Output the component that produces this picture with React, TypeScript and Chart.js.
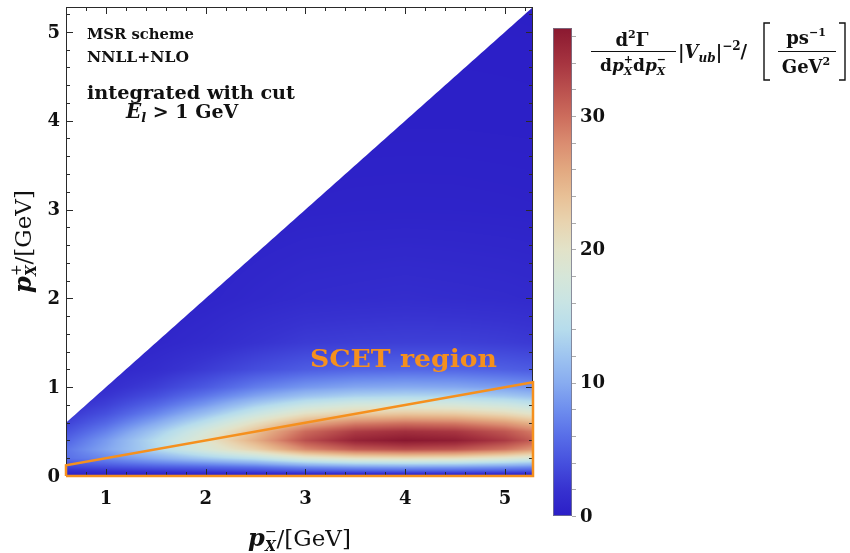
import { useEffect, useRef } from "react";
import { Chart, registerables } from "chart.js";

Chart.register(...registerables);

// ---------------- data ----------------
// grid of p_X^- values (GeV), columns of the density map
const pMinusGrid = [0.6, 1.0, 1.5, 2.0, 2.5, 3.0, 3.5, 4.0, 4.5, 5.0, 5.28];
// grid of p_X^+ values (GeV), rows of the density map
const pPlusGrid = [0, 0.03, 0.06, 0.1, 0.15, 0.2, 0.3, 0.4, 0.5, 0.6, 0.7, 0.8, 0.9, 1.0, 1.2, 1.5, 2.0, 3.0, 4.0, 5.28];

// d^2Gamma/dp+dp- |Vub|^-2 [ps^-1/GeV^2], one column per p- value, listed along pPlusGrid
const rate_pm0_60 = [0.3, 0.9, 1.8, 3.2, 4.8, 6.1, 6.4, 5.3, 4.1, 3.0, 2.2, 1.6, 1.1, 0.8, 0.4, 0.2, 0.1, 0.04, 0.02, 0.01];
const rate_pm1_00 = [0.3, 1.0, 2.2, 3.9, 5.9, 7.6, 9.5, 8.8, 7.2, 5.5, 4.0, 2.9, 2.1, 1.5, 0.8, 0.4, 0.2, 0.08, 0.03, 0.01];
const rate_pm1_50 = [0.35, 1.1, 2.7, 4.8, 7.5, 10.0, 13.6, 14.0, 12.3, 9.8, 7.4, 5.5, 3.9, 2.8, 1.5, 0.8, 0.4, 0.15, 0.06, 0.02];
const rate_pm2_00 = [0.4, 1.3, 3.2, 5.5, 8.9, 12.5, 17.9, 19.5, 17.9, 14.8, 11.6, 8.8, 6.5, 4.6, 2.6, 1.3, 0.65, 0.25, 0.1, 0.03];
const rate_pm2_50 = [0.5, 1.5, 3.8, 6.4, 10.5, 14.8, 22.4, 25.5, 24.0, 20.4, 16.3, 12.8, 9.4, 6.9, 3.8, 2.0, 1.0, 0.38, 0.15, 0.05];
const rate_pm3_00 = [0.6, 1.9, 4.8, 8.0, 13.1, 18.6, 28.2, 32.0, 30.1, 25.6, 20.5, 16.0, 11.8, 8.6, 4.8, 2.6, 1.3, 0.48, 0.19, 0.06];
const rate_pm3_50 = [0.7, 2.1, 5.3, 8.9, 14.6, 20.6, 31.2, 35.5, 33.4, 28.4, 22.7, 17.8, 13.1, 9.6, 5.3, 2.8, 1.4, 0.53, 0.21, 0.07];
const rate_pm4_00 = [0.7, 2.2, 5.5, 9.2, 15.0, 21.2, 32.2, 36.6, 34.4, 29.3, 23.4, 18.3, 13.5, 9.9, 5.5, 2.9, 1.5, 0.55, 0.22, 0.07];
const rate_pm4_50 = [0.7, 2.2, 5.4, 9.0, 14.8, 20.9, 31.7, 36.0, 33.8, 28.8, 23.0, 18.0, 13.3, 9.7, 5.4, 2.9, 1.4, 0.54, 0.22, 0.07];
const rate_pm5_00 = [0.7, 2.0, 5.0, 8.4, 13.7, 19.4, 29.5, 33.5, 31.5, 26.8, 21.4, 16.8, 12.4, 9.0, 5.0, 2.7, 1.3, 0.5, 0.2, 0.07];
const rate_pm5_28 = [0.6, 1.9, 4.7, 7.8, 12.7, 18.0, 27.3, 31.0, 29.1, 24.8, 19.8, 15.5, 11.5, 8.4, 4.7, 2.5, 1.2, 0.47, 0.19, 0.06];
const rateColumns = [rate_pm0_60, rate_pm1_00, rate_pm1_50, rate_pm2_00, rate_pm2_50, rate_pm3_00, rate_pm3_50, rate_pm4_00, rate_pm4_50, rate_pm5_00, rate_pm5_28];

// SCET region outline (p-, p+)
const scetPMinus = [0.6, 0.6, 5.28, 5.28, 0.6];
const scetPPlus = [0, 0.12, 1.056, 0, 0];

// axis ranges / ticks
const pMinusRange = [0.6, 5.28];
const pPlusRange = [0, 5.28];
const xTickLabels = [1, 2, 3, 4, 5];
const yTickLabels = [0, 1, 2, 3, 4, 5];
const colorRange = [0, 36.6];
const colorTickLabels = [0, 10, 20, 30];

// colour map (TemperatureMap-like)
const cmapValues = [0, 2, 4, 6, 8, 10, 12, 14, 16, 18, 20, 22, 24, 26, 28, 30, 32, 34, 36.6];
const cmapColors = [
  [43, 30, 198], [55, 50, 208], [70, 80, 222], [88, 110, 232], [110, 142, 238], [136, 172, 240],
  [158, 196, 240], [182, 220, 236], [200, 228, 228], [214, 230, 216], [226, 226, 200], [232, 212, 176],
  [232, 192, 150], [226, 168, 128], [218, 140, 112], [204, 108, 92], [186, 80, 78], [166, 52, 64], [138, 24, 48],
];

const ORANGE = "#f5901e";
const SERIF = '"DejaVu Serif", serif';
const B = (s: number) => `bold ${s}px ${SERIF}`;
const BI = (s: number) => `italic bold ${s}px ${SERIF}`;
const R = (s: number) => `${s}px ${SERIF}`;

function findIdx(arr: number[], v: number) {
  if (v <= arr[0]) return 0;
  for (let i = 0; i < arr.length - 1; i++) if (v <= arr[i + 1]) return i;
  return arr.length - 2;
}

function sampleRate(pm: number, pp: number) {
  const i = findIdx(pMinusGrid, pm);
  const j = findIdx(pPlusGrid, pp);
  const tx = Math.max(0, Math.min(1, (pm - pMinusGrid[i]) / (pMinusGrid[i + 1] - pMinusGrid[i])));
  const ty = Math.max(0, Math.min(1, (pp - pPlusGrid[j]) / (pPlusGrid[j + 1] - pPlusGrid[j])));
  const a = rateColumns[i][j], b = rateColumns[i + 1][j], c = rateColumns[i][j + 1], d = rateColumns[i + 1][j + 1];
  return (a * (1 - tx) + b * tx) * (1 - ty) + (c * (1 - tx) + d * tx) * ty;
}

function colorFor(v: number) {
  const vv = Math.max(cmapValues[0], Math.min(cmapValues[cmapValues.length - 1], v));
  const i = findIdx(cmapValues, vv);
  const t = (vv - cmapValues[i]) / (cmapValues[i + 1] - cmapValues[i]);
  const c0 = cmapColors[i], c1 = cmapColors[i + 1];
  return [c0[0] + (c1[0] - c0[0]) * t, c0[1] + (c1[1] - c0[1]) * t, c0[2] + (c1[2] - c0[2]) * t];
}

type Piece = { t: string; f: string; dy?: number };
type Run = Piece | { stack: Piece[] };

function runWidth(ctx: CanvasRenderingContext2D, r: Run) {
  if ("stack" in r) {
    let w = 0;
    for (const p of r.stack) { ctx.font = p.f; w = Math.max(w, ctx.measureText(p.t).width); }
    return w;
  }
  ctx.font = r.f;
  return ctx.measureText(r.t).width;
}

function drawRuns(ctx: CanvasRenderingContext2D, runs: Run[], x: number, y: number, align: "left" | "center" = "left") {
  let total = 0;
  for (const r of runs) total += runWidth(ctx, r);
  let cx = align === "center" ? x - total / 2 : x;
  ctx.textAlign = "left";
  ctx.textBaseline = "alphabetic";
  for (const r of runs) {
    const w = runWidth(ctx, r);
    if ("stack" in r) {
      for (const p of r.stack) { ctx.font = p.f; ctx.fillText(p.t, cx, y + (p.dy || 0)); }
    } else {
      ctx.font = r.f;
      ctx.fillText(r.t, cx, y + (r.dy || 0));
    }
    cx += w;
  }
  return total;
}

function fitText(ctx: CanvasRenderingContext2D, text: string, x: number, y: number, width: number) {
  const m = ctx.measureText(text).width;
  ctx.save();
  ctx.translate(x, y);
  ctx.scale(width / m, 1);
  ctx.textAlign = "left";
  ctx.fillText(text, 0, 0);
  ctx.restore();
}

const heatmapPlugin = {
  id: "heatmap",
  beforeDatasetsDraw(chart: any) {
    const { ctx, chartArea: a, scales } = chart;
    const xs = scales.x, ys = scales.y;
    const L = Math.floor(a.left), T = Math.floor(a.top);
    const W = Math.ceil(a.right) - L, H = Math.ceil(a.bottom) - T;
    const off = document.createElement("canvas");
    off.width = W; off.height = H;
    const octx = off.getContext("2d")!;
    const img = octx.createImageData(W, H);
    const pxU = Math.abs(xs.getPixelForValue(1) - xs.getPixelForValue(0));
    for (let j = 0; j < H; j++) {
      const pp = ys.getValueForPixel(T + j + 0.5);
      for (let i = 0; i < W; i++) {
        const pm = xs.getValueForPixel(L + i + 0.5);
        const cov = Math.max(0, Math.min(1, (pm - pp) * pxU * 0.7 + 0.5));
        if (cov <= 0) continue;
        const c = colorFor(sampleRate(pm, pp));
        const k = (j * W + i) * 4;
        img.data[k] = c[0]; img.data[k + 1] = c[1]; img.data[k + 2] = c[2];
        img.data[k + 3] = Math.round(cov * 255);
      }
    }
    octx.putImageData(img, 0, 0);
    ctx.drawImage(off, L, T);
  },
};

const framePlugin = {
  id: "frame",
  beforeDatasetsDraw(chart: any) {
    const { ctx, chartArea: a, scales } = chart;
    const xs = scales.x, ys = scales.y;
    ctx.save();
    ctx.strokeStyle = "#2a2a2a";
    ctx.lineWidth = 1;
    ctx.strokeRect(a.left + 0.5, a.top + 0.5, a.right - a.left - 1, a.bottom - a.top - 1);
    ctx.beginPath();
    for (let k = 3; k <= 26; k++) {
      const v = k / 5;
      if (v < pMinusRange[0] - 1e-6 || v > pMinusRange[1]) continue;
      const major = Math.abs(v - Math.round(v)) < 1e-6;
      const len = major ? 7 : 4;
      const px = Math.round(xs.getPixelForValue(v)) + 0.5;
      ctx.moveTo(px, a.bottom); ctx.lineTo(px, a.bottom - len);
      ctx.moveTo(px, a.top); ctx.lineTo(px, a.top + len);
    }
    for (let k = 0; k <= 26; k++) {
      const v = k / 5;
      if (v > pPlusRange[1]) continue;
      const major = Math.abs(v - Math.round(v)) < 1e-6;
      const len = major ? 7 : 4;
      const py = Math.round(ys.getPixelForValue(v)) + 0.5;
      ctx.moveTo(a.left, py); ctx.lineTo(a.left + len, py);
      ctx.moveTo(a.right, py); ctx.lineTo(a.right - len, py);
    }
    ctx.stroke();

    // tick labels
    ctx.fillStyle = "#111";
    ctx.font = B(18);
    ctx.textAlign = "center";
    ctx.textBaseline = "middle";
    for (const v of xTickLabels) ctx.fillText(String(v), xs.getPixelForValue(v), 499);
    ctx.textAlign = "right";
    for (const v of yTickLabels) ctx.fillText(String(v), 60, ys.getPixelForValue(v) + 1);

    // axis titles
    ctx.fillStyle = "#111";
    const xTitle: Run[] = [
      { t: "p", f: BI(24) },
      { stack: [{ t: "\u2212", f: R(14), dy: -10 }, { t: "X", f: BI(14), dy: 5 }] },
      { t: "/[GeV]", f: R(23) },
    ];
    drawRuns(ctx, xTitle, (a.left + a.right) / 2, 546, "center");
    ctx.save();
    ctx.translate(31, (a.top + a.bottom) / 2);
    ctx.rotate(-Math.PI / 2);
    const yTitle: Run[] = [
      { t: "p", f: BI(24) },
      { stack: [{ t: "+", f: R(14), dy: -10 }, { t: "X", f: BI(14), dy: 5 }] },
      { t: "/[GeV]", f: R(23) },
    ];
    drawRuns(ctx, yTitle, 0, 0, "center");
    ctx.restore();
    ctx.restore();
  },
};

const annotationPlugin = {
  id: "annotations",
  afterDraw(chart: any) {
    const { ctx } = chart;
    ctx.save();
    ctx.fillStyle = "#111";
    ctx.textBaseline = "alphabetic";
    ctx.font = B(14);
    fitText(ctx, "MSR scheme", 87, 39, 107);
    fitText(ctx, "NNLL+NLO", 87, 62, 102);
    ctx.font = B(18);
    fitText(ctx, "integrated with cut", 87, 99, 208);
    drawRuns(ctx, [
      { t: "E", f: BI(20) },
      { t: "l", f: BI(13), dy: 4 },
      { t: " > 1 GeV", f: B(19) },
    ], 126, 118);

    // SCET region label
    ctx.fillStyle = ORANGE;
    ctx.font = B(25);
    fitText(ctx, "SCET region", 310, 367, 187);

    // colour bar
    const cbL = 553, cbR = 572, cbT = 28, cbB = 516;
    const vToY = (v: number) => cbB - ((v - colorRange[0]) / (colorRange[1] - colorRange[0])) * (cbB - cbT);
    const grad = ctx.createLinearGradient(0, cbB, 0, cbT);
    for (let i = 0; i < cmapValues.length; i++) {
      const c = cmapColors[i];
      grad.addColorStop((cmapValues[i] - colorRange[0]) / (colorRange[1] - colorRange[0]), `rgb(${c[0]},${c[1]},${c[2]})`);
    }
    ctx.fillStyle = grad;
    ctx.fillRect(cbL, cbT, cbR - cbL, cbB - cbT);
    ctx.strokeStyle = "rgba(120,120,140,0.8)";
    ctx.lineWidth = 1;
    ctx.strokeRect(cbL + 0.5, cbT + 0.5, cbR - cbL - 1, cbB - cbT - 1);
    ctx.strokeStyle = "#aaa";
    ctx.beginPath();
    for (let v = 0; v <= 36; v += 2) {
      const y = Math.round(vToY(v)) + 0.5;
      ctx.moveTo(cbR, y); ctx.lineTo(cbR + 4, y);
    }
    ctx.stroke();
    ctx.fillStyle = "#111";
    ctx.font = B(18);
    ctx.textAlign = "left";
    ctx.textBaseline = "middle";
    for (const v of colorTickLabels) ctx.fillText(String(v), 580, vToY(v) + 1);

    // colour bar title
    ctx.textBaseline = "alphabetic";
    drawRuns(ctx, [{ t: "d", f: B(18) }, { t: "2", f: B(11), dy: -8 }, { t: "\u0393", f: B(18) }], 632, 46, "center");
    ctx.strokeStyle = "#111";
    ctx.lineWidth = 1;
    ctx.beginPath();
    ctx.moveTo(591, 51.5); ctx.lineTo(676, 51.5);
    ctx.stroke();
    drawRuns(ctx, [
      { t: "d", f: B(17) }, { t: "p", f: BI(17) },
      { stack: [{ t: "+", f: B(11), dy: -8 }, { t: "X", f: BI(11), dy: 4 }] },
      { t: "d", f: B(17) }, { t: "p", f: BI(17) },
      { stack: [{ t: "\u2212", f: B(11), dy: -8 }, { t: "X", f: BI(11), dy: 4 }] },
    ], 633, 71, "center");
    drawRuns(ctx, [
      { t: "|", f: B(18) }, { t: "V", f: BI(18) }, { t: "ub", f: BI(12), dy: 4 }, { t: "|", f: B(18) },
      { t: "\u22122", f: B(12), dy: -8 }, { t: "/", f: B(18) },
    ], 678, 58);
    // brackets
    ctx.lineWidth = 1.4;
    ctx.beginPath();
    ctx.moveTo(770, 23); ctx.lineTo(764, 23); ctx.lineTo(764, 80); ctx.lineTo(770, 80);
    ctx.moveTo(839, 23); ctx.lineTo(845, 23); ctx.lineTo(845, 80); ctx.lineTo(839, 80);
    ctx.stroke();
    drawRuns(ctx, [{ t: "ps", f: B(18) }, { t: "\u22121", f: B(11), dy: -8 }], 806, 44, "center");
    ctx.lineWidth = 1;
    ctx.beginPath();
    ctx.moveTo(778, 51.5); ctx.lineTo(836, 51.5);
    ctx.stroke();
    drawRuns(ctx, [{ t: "GeV", f: B(18) }, { t: "2", f: B(11), dy: -8 }], 806, 73, "center");
    ctx.restore();
  },
};

export default function App() {
  const ref = useRef<HTMLCanvasElement | null>(null);
  useEffect(() => {
    if (!ref.current) return;
    const chart = new Chart(ref.current, {
      type: "line",
      data: {
        datasets: [
          {
            label: "SCET region",
            data: scetPMinus.map((x, i) => ({ x, y: scetPPlus[i] })),
            borderColor: ORANGE,
            borderWidth: 2.5,
            pointRadius: 0,
            tension: 0,
            fill: false,
            clip: false as any,
          },
        ],
      },
      options: {
        responsive: false,
        animation: false,
        layout: { padding: { left: 66, top: 7, right: 317, bottom: 77 } },
        scales: {
          x: { type: "linear", min: pMinusRange[0], max: pMinusRange[1], display: false },
          y: { type: "linear", min: pPlusRange[0], max: pPlusRange[1], display: false },
        },
        plugins: { legend: { display: false }, tooltip: { enabled: false } },
      },
      plugins: [heatmapPlugin, framePlugin, annotationPlugin],
    });
    return () => chart.destroy();
  }, []);
  return (
    <div style={{ position: "absolute", left: 0, top: 0, width: 850, height: 553, background: "#fff" }}>
      <canvas ref={ref} width={850} height={553} style={{ display: "block" }} />
    </div>
  );
}
